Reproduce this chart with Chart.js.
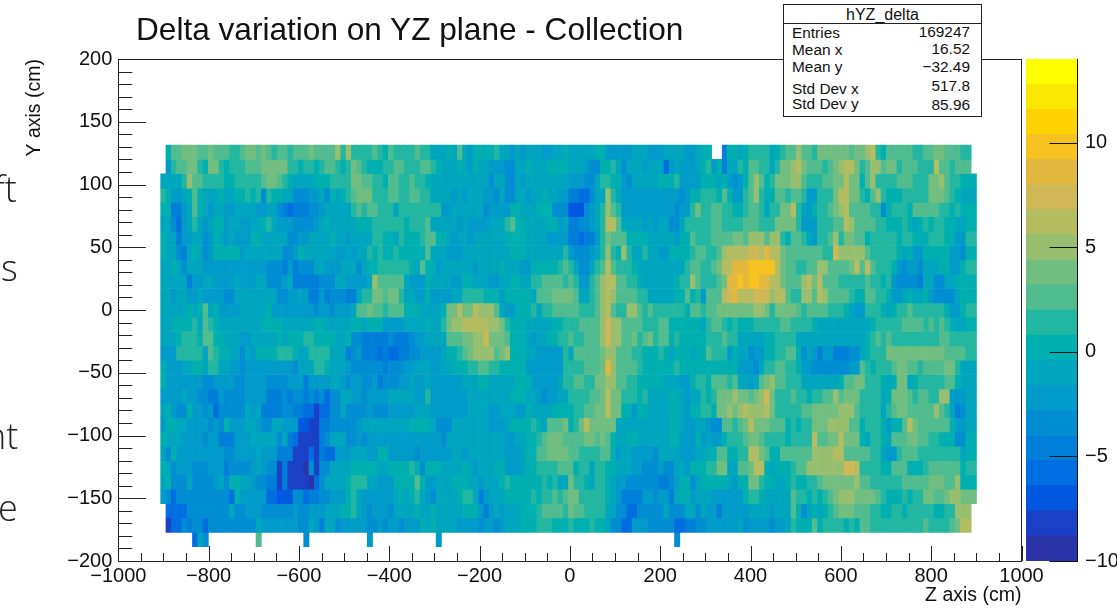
<!DOCTYPE html>
<html>
<head>
<meta charset="utf-8">
<title>hYZ_delta</title>
<script src="https://cdn.jsdelivr.net/npm/chart.js@4/dist/chart.umd.js"></script>
<style>
    html, body { margin: 0; padding: 0; background: #fff; overflow: hidden; }
    #page { position: relative; width: 1117px; height: 608px; overflow: hidden; font-family: "Liberation Sans", sans-serif; color: #111; }
    canvas { position: absolute; top: 0; }
    #heat-chart { left: 0; }
    #bar-chart { left: 1026px; }
    #title { position: absolute; left: 136px; top: 11px; font-size: 31.6px; line-height: 36px; white-space: nowrap; }
    .stray { position: absolute; font-family: "Open Sans", sans-serif; font-weight: 300; font-size: 36px; line-height: 40px; color: #222; }
    #stats { position: absolute; left: 783px; top: 4px; width: 197px; height: 111px; border: 1px solid #222; background: #fff; font-size: 15.4px; }
    #stats .head { position: absolute; left: 0; right: 0; top: 0; height: 18px; line-height: 19px; font-size: 16px; text-align: center; border-bottom: 1px solid #222; }
    #stats .l, #stats .r { position: absolute; line-height: 16px; }
    #stats .l { left: 8px; }
    #stats .r { right: 11px; }
</style>
</head>
<body>
<div id="page">
    <canvas id="heat-chart" width="1117" height="608"></canvas>
    <canvas id="bar-chart" width="91" height="608"></canvas>
    <div id="title">Delta variation on YZ plane - Collection</div>
    <div class="stray" style="left:-6px;top:169px">ft</div>
    <div class="stray" style="left:1px;top:248px">s</div>
    <div class="stray" style="left:-15px;top:416px">nt</div>
    <div class="stray" style="left:-2px;top:488px">e</div>
    <div id="stats">
        <div class="head">hYZ_delta</div>
        <div class="l" style="top:20px">Entries</div><div class="r" style="top:19px">169247</div>
        <div class="l" style="top:37px">Mean x</div><div class="r" style="top:36px">16.52</div>
        <div class="l" style="top:54px">Mean y</div><div class="r" style="top:54px">&minus;32.49</div>
        <div class="l" style="top:76px">Std Dev x</div><div class="r" style="top:73px">517.8</div>
        <div class="l" style="top:91px">Std Dev y</div><div class="r" style="top:92px">85.96</div>
    </div>
</div>

<script>
// Tick labels
var zTicks = [-1000, -800, -600, -400, -200, 0, 200, 400, 600, 800, 1000];
var yTicks = [-200, -150, -100, -50, 0, 50, 100, 150, 200];
var colorTicks = [-10, -5, 0, 5, 10];

// Colour bar: 20 contour levels from -10 to 14
var levelEdges = [-10, -8.8, -7.6, -6.4, -5.2, -4, -2.8, -1.6, -0.4, 0.8, 2, 3.2, 4.4, 5.6, 6.8, 8, 9.2, 10.4, 11.6, 12.8, 14];
var levelColors = ['#2a33a8', '#1a40c6', '#0058e0', '#006ee0', '#007fd8', '#008dd2', '#009bc9', '#00a6bd',
    '#00afaf', '#23b7a1', '#50bc8f', '#71be80', '#98bf70', '#b4bd62', '#cfb855', '#e3b83e',
    '#f6c21f', '#ffd300', '#fbe800', '#ffff00'];

// Cells of the histogram, one list per Y bin from the top down.
// Each list is: first column, value, first column, value ... (null = empty cell)
var row01 = [1,0,2,3,4,4,7,3,9,4,10,3,13,1,15,3,16,4,18,3,19,4,20,3,21,1,22,3,24,1,25,3,28,4,29,3,33,5,34,1,35,5,36,1,40,3,41,1,42,0,43,3,44,1,48,3,49,1,51,-1,53,-1,54,0,55,-1,56,3,57,-1,58,-2,59,0,63,1,64,-1,66,-2,67,-1,68,-2,69,-1,72,-2,74,-1,76,0,77,-1,82,0,84,-2,89,-1,92,-2,95,-1,99,-2,101,-1,102,0,104,null,106,-5,107,0,109,-1,110,0,111,1,115,-1,116,0,117,1,118,3,120,5,121,3,123,1,124,4,130,3,131,4,133,5,134,6,135,1,136,0,137,3,142,1,144,3,146,4,148,3,151,1,153,null];
var row02 = [1,-2,2,1,3,3,5,4,7,1,8,0,9,4,11,1,12,0,13,1,16,3,19,4,24,1,26,0,27,1,29,0,30,1,31,3,33,1,34,0,35,1,36,4,37,3,38,1,39,0,42,1,44,3,46,1,49,3,51,1,52,0,53,-1,56,0,57,-1,58,-2,59,0,60,-1,62,-2,65,-3,67,-1,69,0,70,-1,73,0,77,-1,80,-2,81,-3,83,0,85,1,86,-1,87,-3,88,-1,91,-2,92,-1,95,-6,96,-2,97,-1,98,-2,101,-1,102,0,103,1,104,-2,105,0,106,-5,107,-1,109,1,110,0,111,3,113,1,115,-1,116,1,117,4,119,5,120,6,121,4,122,3,125,1,126,3,127,4,128,5,129,6,131,4,132,1,133,3,134,5,136,3,137,4,139,1,140,3,143,1,146,6,147,3,149,1,150,3,153,null];
var row03 = [0,-1,4,1,5,5,6,3,8,1,12,0,14,1,19,3,20,4,22,3,23,1,24,0,25,-1,29,0,32,1,36,4,38,3,40,1,42,0,43,3,45,1,47,3,48,1,50,0,51,-1,62,-3,63,-1,65,-3,67,-1,68,-2,69,-1,77,-2,80,-3,82,-1,83,1,85,0,87,-2,88,-3,89,-1,94,0,97,1,98,-2,102,0,103,0,105,-1,106,0,107,-2,108,-3,109,-2,110,0,111,3,112,5,113,3,114,0,115,1,116,4,119,5,121,3,122,1,125,3,127,4,129,6,130,4,132,0,133,3,134,5,135,1,139,3,142,1,145,4,147,5,148,3,149,1,151,0];
var row04 = [0,1,1,0,2,-2,4,-1,5,0,6,3,7,0,8,-1,11,0,12,-1,14,0,16,1,17,0,18,1,19,-3,20,1,21,0,23,-1,25,-3,28,-2,30,-1,31,-3,32,0,33,-1,34,0,35,1,36,3,37,4,40,1,43,3,45,1,47,3,49,1,51,-1,55,-2,56,-1,57,-2,58,-1,61,-2,63,-3,64,-1,65,-3,67,-1,69,-2,70,-1,72,0,73,-1,75,-2,77,-5,79,-6,81,-3,82,-1,84,5,85,1,86,-1,87,-2,98,-3,99,-2,100,0,102,1,105,0,106,3,107,0,108,-2,110,1,111,3,112,5,113,1,114,0,116,3,118,1,119,3,121,1,122,-2,124,1,127,4,128,6,130,4,132,1,133,0,134,3,135,5,136,1,137,0,140,1,145,4,148,3,149,1,150,0,151,-1];
var row05 = [0,0,2,-5,4,-2,5,-1,6,3,7,0,8,-1,9,-2,10,-1,12,-2,14,-1,18,-2,20,-1,22,-3,23,-5,24,-6,25,-5,28,-3,30,-2,31,-1,36,1,37,3,38,1,39,3,41,1,44,-1,45,1,53,-2,55,-1,61,-3,62,-2,66,0,68,-1,71,0,74,-3,77,-7,80,-3,81,-2,82,-1,83,1,84,5,85,3,86,1,87,-2,97,-3,98,-2,100,1,101,4,102,1,103,1,104,3,106,1,108,0,110,1,111,3,113,1,114,-1,115,1,117,4,119,6,120,1,121,-1,122,-2,123,0,124,1,126,3,127,4,128,5,129,6,130,3,134,1,136,-3,137,0,138,1,141,0,142,3,147,1,149,0,150,1,151,0];
var row06 = [0,-1,2,-3,3,-6,4,-2,5,-1,6,1,7,-1,8,-2,9,-1,10,0,12,-2,13,-1,15,-2,17,-1,19,0,20,1,21,-1,22,-2,25,-3,29,-2,30,-1,31,0,32,-1,37,0,40,1,46,0,47,1,50,3,51,-1,56,-2,57,-1,58,-2,62,-1,65,1,66,3,67,0,69,-1,73,0,75,-2,76,-1,77,-5,79,-3,81,-2,82,-1,83,1,84,6,86,3,87,-1,91,-2,92,-1,93,-2,94,-1,96,-3,98,-1,99,1,104,3,106,1,110,3,113,1,116,4,120,1,121,-2,124,1,127,3,129,6,130,5,131,3,135,1,137,0,140,1,141,0,142,-1,143,0,144,1,145,0,146,1,148,0,150,-1,152,0];
var row07 = [0,0,1,-1,3,-5,4,-2,6,-1,8,-3,9,-2,10,0,11,-1,12,-2,13,-1,14,-2,17,0,19,-1,24,-3,26,-2,28,-1,32,0,33,-1,35,-2,36,-1,40,1,42,0,44,-1,45,1,46,0,49,1,50,3,52,0,53,0,54,-1,55,-2,56,-1,58,-2,59,-1,65,0,69,-1,73,-2,77,-5,79,-6,80,-5,82,-2,83,1,84,4,85,3,88,0,92,-1,97,-2,98,0,100,3,101,1,104,3,108,4,110,3,111,5,114,3,115,5,117,1,118,0,119,3,121,1,122,-1,123,-2,124,1,126,3,127,5,128,1,129,4,131,3,133,0,134,1,139,0,140,1,142,0,145,1,148,0,150,-2,152,1];
var row08 = [0,0,1,-1,3,-3,4,-5,5,-1,6,0,7,-1,8,-3,9,-2,10,0,15,-2,16,-1,23,-3,25,-2,26,0,27,-1,33,-2,35,-1,36,-2,37,-1,39,1,40,0,41,1,42,0,44,1,45,0,50,3,51,-1,54,-2,57,-1,66,0,69,-1,76,1,77,-2,78,-3,81,-2,82,-1,83,1,84,5,85,1,86,0,87,5,88,1,89,-1,91,1,92,-1,94,-2,96,0,100,1,101,3,103,1,105,3,106,5,107,6,111,7,113,6,114,9,115,6,117,4,118,3,125,1,127,7,128,5,133,3,134,1,139,0,140,-1,141,0,142,-2,144,0,149,-2,151,-3,152,0];
var row09 = [0,-1,2,0,3,-1,4,-3,5,-1,8,-2,20,-3,23,-5,24,-2,25,-5,26,-3,29,-1,31,-2,34,-1,37,-3,38,-1,39,0,41,1,47,0,48,-1,49,3,50,0,52,-2,53,-1,59,-2,60,-1,64,0,65,-1,68,-2,70,0,75,1,76,3,77,1,78,-1,79,-3,81,-1,82,1,83,3,84,6,85,3,86,1,89,0,90,-1,99,1,100,3,102,1,103,1,104,3,105,4,106,6,108,9,111,10,116,6,117,4,118,3,120,1,122,3,124,5,126,3,130,4,131,6,132,3,133,6,134,3,135,1,138,0,139,-2,140,-3,141,-2,143,-3,144,-1,147,0,149,-2,151,0,152,1];
var row10 = [0,-1,5,-5,6,-2,8,-1,10,-2,14,-1,15,-2,18,-1,20,-3,23,-2,24,-1,25,-5,30,-3,33,-1,35,-2,39,-1,40,5,41,3,46,-1,47,-2,50,0,51,-1,55,-2,57,0,59,-1,62,-2,64,-1,66,0,68,-1,70,1,72,3,76,1,77,3,78,1,79,-2,81,1,82,3,83,5,84,6,86,3,88,1,90,0,91,-1,97,0,98,1,100,5,101,3,102,1,105,3,106,4,107,9,109,10,110,9,111,10,113,9,115,6,117,4,118,3,121,5,122,6,123,4,124,6,125,3,128,1,133,3,134,1,136,0,137,1,138,-2,139,-3,143,-5,144,-1,146,-3,148,-1,150,0];
var row11 = [0,-1,2,-2,3,-1,5,-2,7,-1,8,-2,12,-3,14,-1,22,-3,24,-2,26,-1,27,-2,28,-5,30,-2,31,-5,32,-3,35,-5,37,-1,38,1,40,4,42,3,43,4,45,1,46,-1,48,-2,50,0,51,-2,55,-1,57,1,61,0,64,-2,65,0,70,-1,71,3,74,4,78,3,79,-1,81,1,82,3,83,5,84,6,85,5,86,3,90,1,92,-1,97,0,99,3,100,0,101,1,102,-2,103,3,106,6,107,7,108,9,109,6,112,7,115,5,116,6,118,3,119,1,121,5,123,3,124,6,125,5,126,3,130,1,131,0,133,3,135,1,137,0,138,-2,140,-1,141,0,142,-1,144,0,145,-2,146,-3,150,-1,151,0];
var row12 = [0,-1,5,0,6,-1,7,0,8,3,9,-1,10,0,11,-2,15,-1,20,0,21,-2,29,-3,30,-2,32,-3,33,-2,36,-1,37,3,39,4,40,3,42,1,43,3,46,0,49,-1,53,0,54,4,56,6,57,4,59,6,60,5,63,3,64,-1,65,-2,67,0,70,1,71,-1,72,1,74,3,79,1,82,3,83,5,84,6,85,3,86,1,88,5,90,3,91,1,92,3,93,1,99,0,100,3,102,1,103,3,105,4,112,5,114,4,115,1,116,4,120,3,121,1,122,3,126,1,129,0,130,-1,131,-2,133,1,136,0,137,-1,138,0,139,1,141,3,142,1,148,0,149,-2,151,0,152,1];
var row13 = [0,-1,2,0,6,1,7,-1,8,3,9,1,10,0,11,-1,19,0,23,-1,29,0,31,-1,36,0,38,-1,39,0,42,-2,46,-1,50,0,51,-1,53,1,54,4,55,5,57,6,62,5,64,4,65,1,66,0,69,-1,74,0,76,1,79,3,83,5,84,7,85,5,87,3,91,1,94,3,96,0,102,-1,103,1,104,3,106,1,107,0,108,1,109,0,112,1,117,3,119,1,123,0,124,-1,134,0,135,1,140,3,144,1,145,3,146,1,147,3,148,1,149,0,150,-1,152,0];
var row14 = [0,-1,3,0,4,1,7,0,8,3,10,0,12,-1,15,-2,17,-1,22,0,23,-1,24,0,27,1,29,0,33,-1,35,0,36,-3,38,-5,43,-3,44,-5,47,-3,48,-2,50,-1,53,-1,54,3,57,4,59,5,61,7,62,4,65,3,66,0,69,-1,70,-2,71,-1,73,0,75,1,77,3,78,1,80,3,83,5,84,7,85,5,87,3,89,4,90,1,91,3,92,4,93,1,94,3,96,0,97,1,98,0,103,1,106,3,107,1,109,-1,114,0,116,1,120,-1,133,0,134,1,135,3,136,1,137,3,138,1,147,3,149,1];
var row15 = [0,-2,3,1,8,-1,9,3,10,1,11,0,13,-1,15,-3,16,-1,17,-2,18,0,22,1,25,0,26,-1,28,1,32,-1,35,-5,36,-3,37,-2,38,-5,41,-6,42,-5,43,-6,45,-5,47,-3,49,-2,53,-1,54,0,56,1,57,3,58,4,59,5,63,3,64,4,65,5,66,0,69,-1,71,-2,76,1,77,-1,78,3,83,4,84,5,86,3,89,1,91,0,94,1,95,0,96,-1,97,0,100,-1,101,0,103,3,104,1,107,-2,108,0,109,-1,111,-3,112,-2,114,0,116,1,118,3,120,0,121,-3,122,-1,123,-2,124,-5,125,-2,127,-5,130,-3,132,-1,133,0,134,1,137,4,148,3,152,1];
var row16 = [0,0,1,-2,4,-1,6,0,8,-1,9,1,11,-1,13,-2,15,-3,16,-2,25,-3,26,-1,29,1,31,0,32,-1,35,-2,36,-3,42,-5,43,-3,46,-2,48,-1,51,-2,53,-1,55,0,58,1,60,3,62,1,64,0,69,-2,76,1,80,3,83,4,84,9,85,5,86,3,90,1,91,0,97,1,98,0,109,-2,112,-3,113,-1,114,1,116,3,118,1,120,0,121,-2,123,-3,130,-2,132,3,133,1,134,0,135,1,138,3,139,4,141,3,143,1,144,3,148,4,150,1,151,-1];
var row17 = [0,0,1,-2,8,-3,10,-2,14,-3,16,-2,20,-3,24,-2,27,-5,28,-2,32,-1,34,-2,35,-3,36,-2,38,-3,40,-2,41,-5,42,-3,45,-2,47,-1,48,-2,50,-1,51,-2,57,-1,60,0,62,-1,67,0,70,-2,75,-1,76,1,78,3,80,1,82,4,84,5,86,3,88,1,90,0,95,-1,98,-2,100,0,101,1,103,0,104,3,107,1,108,3,109,-1,111,-2,112,-1,113,3,114,4,115,5,116,3,118,1,121,-1,128,0,129,3,131,4,133,1,136,0,137,-1,138,0,139,4,141,-1,142,0,143,1,148,3,150,0,151,-1];
var row18 = [0,-2,4,-1,5,-2,7,-3,9,-5,11,-2,12,-3,16,-2,20,-5,23,-3,24,-5,25,-3,27,-5,28,-3,29,-5,30,-3,31,-6,32,-3,34,-1,36,-2,38,-3,39,-2,43,-1,48,-2,50,1,51,-2,58,-1,66,0,69,-1,71,-2,72,-3,73,-2,75,-1,77,1,81,3,83,4,84,6,85,4,87,1,90,0,91,1,92,-1,96,0,98,-1,99,-2,100,-1,102,1,103,0,104,1,105,4,108,5,109,4,111,3,112,4,113,5,114,7,115,4,116,1,119,3,120,1,122,0,123,1,125,3,127,5,128,3,129,4,132,1,136,-1,137,0,138,4,141,3,142,1,143,3,145,1,147,5,149,-2,152,-1];
var row19 = [0,-1,1,0,2,-2,3,-3,5,0,6,-2,8,-3,9,-2,10,-6,11,-3,16,-1,17,-2,18,-1,19,-5,23,-3,25,-5,27,-6,29,-8,30,-6,32,-3,34,-1,35,-3,39,-2,40,-3,43,-2,48,-1,51,-2,58,-1,62,-2,64,-1,67,-2,69,0,70,-1,74,0,78,1,80,3,82,4,84,6,85,4,87,0,89,-2,90,0,92,-1,96,0,98,-1,99,-2,100,0,102,1,104,0,105,4,107,5,108,4,109,5,110,6,111,5,114,6,115,4,116,1,121,3,123,4,128,5,131,3,132,1,136,-1,137,1,138,3,139,4,141,3,146,5,147,3,148,1,149,-1,150,-5,151,-3,152,-1];
var row20 = [0,-2,1,0,3,-1,5,-2,9,-3,10,-2,11,-3,12,0,13,-2,16,-1,18,-2,19,-3,21,-1,23,-2,26,-7,28,-8,30,-5,32,-3,37,-2,38,-1,47,0,51,-1,52,-3,55,-1,62,-2,65,-1,66,0,70,1,71,0,72,-1,73,3,76,4,77,0,78,1,79,4,80,6,81,4,86,-1,96,0,98,-1,99,-2,101,-1,103,-2,104,-3,106,3,108,1,109,3,110,4,111,6,112,4,115,3,118,0,119,1,120,0,121,1,123,4,126,5,130,3,132,0,133,1,136,0,137,-2,138,0,140,3,141,6,142,4,143,3,149,0,150,-2,152,-1];
var row21 = [0,0,1,-1,4,-2,8,-3,9,-2,11,-5,14,-2,17,-1,22,-3,23,-1,24,-5,25,-6,26,-8,30,-5,31,-3,32,-1,35,-3,37,-2,38,-3,39,-2,53,-3,54,-1,65,-2,67,-1,69,0,71,1,72,3,73,4,76,3,80,4,82,3,83,4,84,3,85,0,86,-1,88,0,90,-1,96,0,98,-2,101,0,102,-2,103,-1,104,-2,106,0,107,1,110,3,111,4,113,3,114,1,118,0,119,1,123,6,124,3,126,4,128,6,129,4,132,0,133,-1,134,1,136,0,137,-1,138,3,141,4,143,3,145,1,147,0,150,-3,152,0];
var row22 = [0,-1,1,-3,2,0,3,-2,12,-3,14,-2,18,-1,19,-2,22,-5,25,-8,28,-6,29,-8,30,-5,31,-6,33,-2,36,-1,39,-2,41,0,43,-2,48,-3,49,-2,53,-2,55,-1,57,-2,58,-1,65,-2,68,-1,69,0,71,3,73,4,77,3,79,1,83,3,85,0,86,-2,87,-1,89,-2,93,-3,94,-1,98,-2,101,-1,103,0,105,3,107,0,109,1,111,6,113,4,114,3,115,0,117,3,123,5,127,6,129,3,134,1,136,-1,137,-2,139,1,140,3,143,1,151,-1,152,0];
var row23 = [0,0,1,-1,2,-3,3,-2,6,-3,9,-2,12,-5,13,-3,17,-2,18,-1,19,-2,20,-3,22,-8,23,-5,24,-8,26,-8,27,-9,28,-3,29,-8,30,-3,32,-1,36,0,41,-1,43,0,47,1,48,0,49,-3,50,0,53,-1,57,0,58,-1,59,-2,60,-1,63,0,65,-2,68,-1,69,0,71,1,75,3,78,0,79,1,81,-1,82,1,84,0,86,-1,89,-2,91,-3,94,-2,95,-3,97,-1,99,-2,100,0,103,1,105,4,107,-1,109,3,111,4,112,6,114,0,115,-1,116,0,119,1,120,3,122,5,129,7,131,6,132,1,136,0,138,3,141,0,144,1,145,3,151,0,152,1];
var row24 = [0,-1,1,0,2,-3,5,-1,6,-3,10,-2,11,-1,12,-3,13,0,15,-1,17,-2,18,-3,20,-5,22,-8,23,-5,24,-8,28,-9,29,-6,30,-3,31,-1,35,0,36,1,39,-1,41,-2,44,0,48,3,49,0,50,-2,52,-1,53,-1,55,0,58,-1,60,-2,61,-1,64,0,65,1,66,0,72,1,73,0,74,1,75,-1,77,4,78,1,80,0,81,-1,82,1,84,0,85,-1,86,-2,88,-3,94,-5,96,-3,97,-2,98,0,100,-3,101,-1,102,0,103,0,107,-1,108,-2,109,0,111,4,113,1,114,0,116,-1,118,0,119,1,120,0,122,1,124,3,125,4,131,5,132,3,134,1,140,3,145,4,148,3,150,5,151,0];
var row25 = [0,-2,1,-3,2,-6,3,-3,13,-6,14,0,15,-2,20,-6,22,-7,25,-3,27,-6,28,-5,30,-3,32,-2,35,0,36,1,37,-1,38,-2,44,-1,45,0,46,-1,47,0,48,1,49,-1,50,-2,51,-3,52,-1,56,0,57,1,59,-1,60,-5,61,-2,62,-1,65,0,70,1,71,0,72,1,74,3,75,1,76,3,77,4,79,1,84,0,85,-1,86,-2,87,-5,91,-2,93,-3,94,-2,96,-5,97,-1,98,0,100,-2,101,-1,104,-2,110,0,111,1,113,0,114,-1,119,3,120,1,122,0,123,1,124,0,125,1,126,3,127,4,128,5,131,4,135,3,136,1,137,0,140,1,141,0,142,1,144,4,146,3,148,4,149,5,151,4];
var row26 = [1,-6,5,-3,13,-1,14,-3,16,-2,19,-3,25,-2,26,-3,28,-2,31,-1,34,0,36,1,37,-1,38,-2,39,-3,40,-2,43,-3,44,-1,48,0,49,-1,51,0,52,-1,57,0,60,-2,61,-5,62,-2,63,-1,64,-2,65,-1,68,0,71,1,72,3,76,1,77,4,78,3,80,1,84,-1,86,-3,88,-6,90,-3,95,-1,96,-3,99,-1,101,-3,102,-1,103,-2,105,-5,106,-2,111,-1,115,-2,116,-1,119,3,120,0,121,-3,122,-1,123,0,124,-1,125,0,126,1,127,3,128,4,131,3,134,1,136,0,138,1,140,0,141,1,146,0,148,1,150,5,153,null];
var row27 = [1,-8,2,-6,4,-3,5,-5,6,-3,8,-6,9,-3,18,-1,19,-2,26,-3,28,-1,29,-2,30,-5,31,-1,33,-3,34,-2,39,-3,41,-2,42,-3,43,-2,45,-3,46,-2,49,0,50,-1,51,0,52,-1,56,-2,60,-3,61,-2,63,-3,64,-2,65,-1,68,0,71,1,74,0,77,1,78,0,81,1,82,0,84,-1,85,-3,87,-6,89,-2,92,-3,97,-6,99,-5,101,-3,103,-2,109,-1,110,-3,111,-2,115,-3,116,-2,118,-1,119,1,120,0,123,3,124,0,125,1,129,0,130,1,131,0,132,3,134,1,144,3,145,1,149,3,150,4,151,6,153,null];
var row28 = [6,-6,7,-1,8,-3,9,null,18,3,19,null,27,-3,28,null,39,-2,40,null,52,-2,53,null,97,-3,98,null];
var rows = [row01, row02, row03, row04, row05, row06, row07, row08, row09, row10, row11, row12, row13, row14,
    row15, row16, row17, row18, row19, row20, row21, row22, row23, row24, row25, row26, row27, row28];

// Histogram binning
var zBins = 170.5, yBins = 35;
var zBinWidth = 2000 / zBins, yBinWidth = 400 / yBins;
var firstZBin = 8, firstYBin = 6, columnCount = 154;

var axisFont = { family: '"Liberation Sans", sans-serif', size: 20 };
var textColor = '#111';

function minusSign(value) {
    return String(value).replace('-', '\u2212');
}

function colorFor(value) {
    var i = Math.floor((value - levelEdges[0]) / (levelEdges[1] - levelEdges[0]));
    return levelColors[Math.max(0, Math.min(levelColors.length - 1, i))];
}

// Expand one row list into bars
function rowDataset(list, rowIndex) {
    var cells = [];
    var c, i;
    for (c = 0; c < columnCount; c++) cells.push(null);
    for (i = 0; i < list.length; i += 2) {
        for (c = list[i]; c < columnCount; c++) cells[c] = list[i + 1];
    }
    var yHigh = 200 - (firstYBin + rowIndex) * yBinWidth;
    var data = [], colors = [];
    for (c = 0; c < columnCount; c++) {
        if (cells[c] === null) continue;
        data.push({ x: -1000 + (firstZBin + c + 0.5) * zBinWidth, y: [yHigh - yBinWidth, yHigh] });
        colors.push(colorFor(cells[c]));
    }
    return { data: data, backgroundColor: colors, borderWidth: 0, grouped: false, barPercentage: 1, categoryPercentage: 1 };
}

function drawTick(ctx, x1, y1, x2, y2) {
    ctx.beginPath();
    ctx.moveTo(x1, y1);
    ctx.lineTo(x2, y2);
    ctx.stroke();
}

// ROOT style frame with ticks pointing inwards
var frameTicks = {
    id: 'frameTicks',
    afterDatasetsDraw: function (chart) {
        var ctx = chart.ctx, area = chart.chartArea;
        var x = chart.scales.x, y = chart.scales.y;
        var v, p;
        ctx.save();
        ctx.strokeStyle = '#222';
        ctx.lineWidth = 1;
        ctx.strokeRect(Math.round(area.left) + 0.5, Math.round(area.top) + 0.5, Math.round(area.width), Math.round(area.height));
        for (v = -1000; v <= 1000; v += 50) {
            p = Math.round(x.getPixelForValue(v)) + 0.5;
            drawTick(ctx, p, area.bottom, p, area.bottom - (v % 200 === 0 ? 15 : 8));
        }
        for (v = -200; v <= 200; v += 10) {
            p = Math.round(y.getPixelForValue(v)) + 0.5;
            drawTick(ctx, area.left, p, area.left + (v % 50 === 0 ? 27.5 : 14), p);
        }
        ctx.restore();
    }
};

var barTicks = {
    id: 'barTicks',
    afterDatasetsDraw: function (chart) {
        var ctx = chart.ctx, area = chart.chartArea;
        ctx.save();
        ctx.strokeStyle = '#111';
        ctx.lineWidth = 1;
        colorTicks.forEach(function (v) {
            var p = Math.round(chart.scales.y.getPixelForValue(v)) + 0.5;
            drawTick(ctx, area.right - 27.5, p, area.right, p);
        });
        ctx.restore();
    }
};

window.addEventListener('load', function () {

    // Main histogram
    new Chart(document.getElementById('heat-chart'), {
        type: 'bar',
        data: { datasets: rows.map(rowDataset) },
        plugins: [frameTicks],
        options: {
            responsive: false,
            animation: false,
            events: [],
            layout: { padding: { top: 59, right: 95.5, left: 0, bottom: 0 } },
            plugins: { legend: { display: false }, tooltip: { enabled: false }, title: { display: false } },
            scales: {
                x: {
                    type: 'linear', min: -1000, max: 1000, offset: false,
                    grid: { display: false, drawTicks: false }, border: { display: false },
                    afterBuildTicks: function (scale) { scale.ticks = zTicks.map(function (v) { return { value: v }; }); },
                    afterFit: function (scale) { scale.height = 47; },
                    ticks: { font: axisFont, color: textColor, padding: 3, maxRotation: 0, autoSkip: false, callback: minusSign },
                    title: { display: true, text: 'Z axis (cm)', align: 'end', color: textColor, font: { family: axisFont.family, size: 19.5 }, padding: { top: 0, bottom: 1 } }
                },
                y: {
                    type: 'linear', min: -200, max: 200,
                    grid: { display: false, drawTicks: false }, border: { display: false },
                    afterBuildTicks: function (scale) { scale.ticks = yTicks.map(function (v) { return { value: v }; }); },
                    afterFit: function (scale) { scale.width = 118.3; },
                    ticks: { font: axisFont, color: textColor, padding: 6, autoSkip: false, callback: minusSign },
                    title: { display: true, text: 'Y axis (cm)', align: 'end', color: textColor, font: { family: axisFont.family, size: 19.5 }, padding: { top: 23, bottom: 0 } }
                }
            }
        }
    });

    // Colour bar
    new Chart(document.getElementById('bar-chart'), {
        type: 'bar',
        data: {
            labels: ['level'],
            datasets: levelColors.map(function (color, i) {
                return { data: [[levelEdges[i], levelEdges[i + 1]]], backgroundColor: color, borderWidth: 0, grouped: false, barPercentage: 1, categoryPercentage: 1 };
            })
        },
        plugins: [barTicks],
        options: {
            responsive: false,
            animation: false,
            events: [],
            layout: { padding: { top: 59, bottom: 47, left: 0, right: 0 } },
            plugins: { legend: { display: false }, tooltip: { enabled: false } },
            scales: {
                x: { display: false },
                y: {
                    position: 'right', min: -10, max: 14,
                    grid: { display: false, drawTicks: false }, border: { display: true, color: '#111' },
                    afterBuildTicks: function (scale) { scale.ticks = colorTicks.map(function (v) { return { value: v }; }); },
                    afterFit: function (scale) { scale.width = 40; },
                    ticks: { font: axisFont, color: textColor, padding: 8, autoSkip: false, callback: minusSign }
                }
            }
        }
    });
});
</script>
</body>
</html>
